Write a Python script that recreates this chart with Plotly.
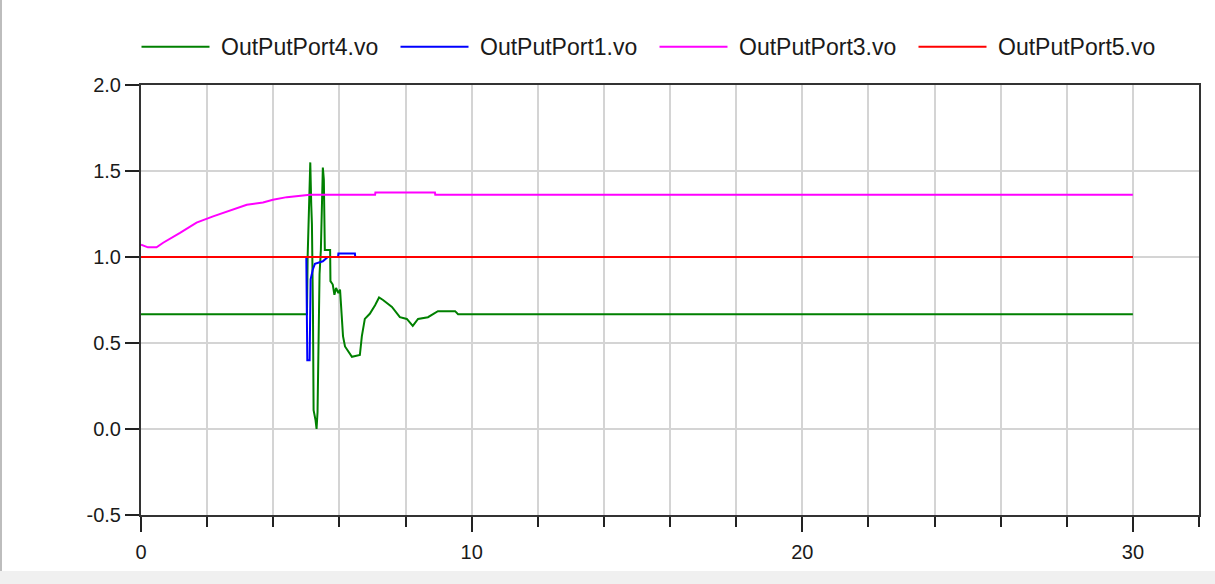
import plotly.graph_objects as go

# ---- data ----
series_names = ["OutPutPort4.vo", "OutPutPort1.vo", "OutPutPort3.vo", "OutPutPort5.vo"]
series_colors = ["#008000", "#0000ff", "#ff00ff", "#ff0000"]

t_port4 = [0, 5.02, 5.04, 5.08, 5.12, 5.15, 5.17, 5.20, 5.22, 5.28, 5.31, 5.34, 5.36, 5.40,
           5.44, 5.47, 5.50, 5.53, 5.56, 5.72, 5.73, 5.80, 5.85, 5.90, 5.97, 6.02, 6.11, 6.17,
           6.38, 6.62, 6.68, 6.77, 6.92, 7.08, 7.20, 7.32, 7.59, 7.83, 8.04, 8.22, 8.38, 8.68,
           8.98, 9.50, 9.59, 30]
v_port4 = [0.667, 0.667, 1.00, 1.37, 1.55, 1.30, 1.19, 0.70, 0.11, 0.05, 0.00, 0.10, 0.38, 0.90,
           1.04, 1.30, 1.52, 1.45, 1.04, 1.04, 0.86, 0.84, 0.78, 0.82, 0.79, 0.81, 0.54, 0.48,
           0.42, 0.43, 0.54, 0.64, 0.67, 0.72, 0.765, 0.75, 0.71, 0.65, 0.64, 0.60, 0.64, 0.65,
           0.685, 0.685, 0.667, 0.667]

t_port1 = [0, 5.00, 5.03, 5.10, 5.13, 5.20, 5.26, 5.50, 5.65, 5.96, 5.97, 6.47, 6.48, 30]
v_port1 = [1.0, 1.0, 0.40, 0.40, 0.87, 0.93, 0.96, 0.975, 1.0, 1.0, 1.02, 1.02, 1.0, 1.0]

t_port3 = [0, 0.21, 0.47, 0.67, 1.18, 1.68, 2.18, 2.69, 3.20, 3.69, 3.99, 4.41, 5.11,
           7.08, 7.09, 8.89, 8.90, 30]
v_port3 = [1.072, 1.056, 1.056, 1.083, 1.14, 1.20, 1.236, 1.27, 1.304, 1.317, 1.333, 1.348, 1.362,
           1.362, 1.375, 1.375, 1.362, 1.362]

t_port5 = [0, 30]
v_port5 = [1.0, 1.0]

x_ticks = [0, 10, 20, 30]
y_ticks = [-0.5, 0.0, 0.5, 1.0, 1.5, 2.0]
y_ticklabels = ["-0.5", "0.0", "0.5", "1.0", "1.5", "2.0"]

# ---- figure ----
fig = go.Figure()
for name, color, t, v in zip(series_names, series_colors,
                             [t_port4, t_port1, t_port3, t_port5],
                             [v_port4, v_port1, v_port3, v_port5]):
    fig.add_trace(go.Scatter(x=t, y=v, mode="lines", name=name,
                             line=dict(color=color, width=2)))

font_family = "Liberation Sans, Arial, sans-serif"

# plot-area geometry in pixels (for placing the legend row above the plot)
L, R, T, B = 141, 16, 85, 69
W, H = 1215, 584
pw, ph = W - L - R, H - T - B

def px_x(p):
    return (p - L) / pw

def px_y(p):
    return (H - B - p) / ph

legend_y = px_y(46.7)
shapes = []
annotations = []
for i, (name, color) in enumerate(zip(series_names, series_colors)):
    x_start = 141.5 + i * 259
    shapes.append(dict(type="line", xref="paper", yref="paper",
                       x0=px_x(x_start), x1=px_x(x_start + 68),
                       y0=legend_y, y1=legend_y, line=dict(color=color, width=2)))
    annotations.append(dict(xref="paper", yref="paper", x=px_x(x_start + 77), y=legend_y,
                            text=name, showarrow=False, xanchor="left", yanchor="middle",
                            font=dict(family=font_family, size=23, color="#1a1a1a")))

# window chrome: grey strip at bottom and thin grey edge on the left
shapes.append(dict(type="rect", xref="paper", yref="paper", x0=px_x(0), x1=px_x(W),
                   y0=px_y(571), y1=px_y(H + 2), fillcolor="#f0f0f0", line=dict(width=0),
                   layer="below"))
shapes.append(dict(type="line", xref="paper", yref="paper", x0=px_x(1), x1=px_x(1),
                   y0=px_y(571), y1=px_y(0), line=dict(color="#bdbdbd", width=2)))

fig.update_layout(
    width=W, height=H,
    margin=dict(l=L, r=R, t=T, b=B),
    paper_bgcolor="white", plot_bgcolor="white",
    font=dict(family=font_family, size=20, color="#1a1a1a"),
    showlegend=False,
    xaxis=dict(range=[0, 32], tickmode="array", tickvals=x_ticks,
               ticktext=[str(v) for v in x_ticks],
               ticks="outside", ticklen=15, tickwidth=2, tickcolor="#222",
               showline=True, linecolor="#333", linewidth=2, mirror=True,
               showgrid=True, gridcolor="#d4d4d4", gridwidth=2, zeroline=False,
               ticklabelstandoff=3,
               minor=dict(dtick=2, tick0=0, ticks="outside", ticklen=10, tickwidth=2,
                          tickcolor="#222", showgrid=True, gridcolor="#d4d4d4", gridwidth=2),
               tickfont=dict(size=20)),
    yaxis=dict(range=[-0.5, 2.0], tickmode="array", tickvals=y_ticks, ticktext=y_ticklabels,
               ticks="outside", ticklen=14, tickwidth=2, tickcolor="#222",
               showline=True, linecolor="#333", linewidth=2, mirror=True,
               showgrid=True, gridcolor="#d4d4d4", gridwidth=2, zeroline=False,
               tickfont=dict(size=20)),
    shapes=shapes,
    annotations=annotations,
)

fig.write_html("out.html")
